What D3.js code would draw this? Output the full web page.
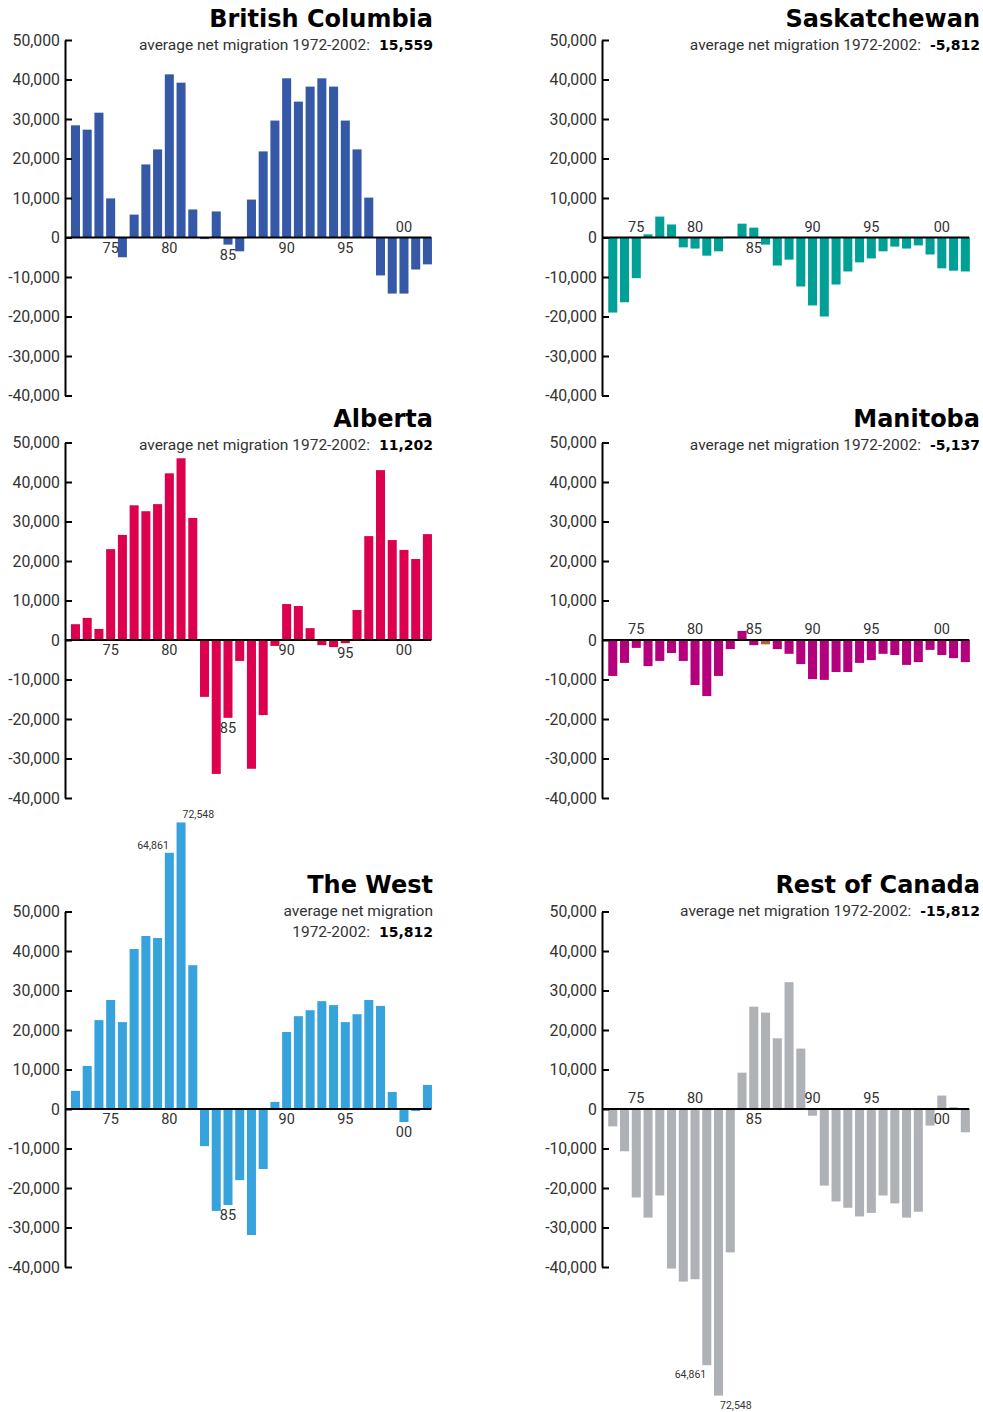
<!DOCTYPE html>
<html>
<head>
<meta charset="utf-8">
<script src="https://cdn.jsdelivr.net/npm/d3@7"></script>
<style>
    body { margin: 0; background: #fff; }
</style>
</head>
<body>
<svg id="drawing_region"></svg>
<script>
// years 1972..2002
const years = d3.range(1972, 2003);
const yearTicks = [1975, 1980, 1985, 1990, 1995, 2000];
const yTickValues = [50000, 40000, 30000, 20000, 10000, 0, -10000, -20000, -30000, -40000];

// net interprovincial migration
const bcValues = [28400, 27300, 31600, 9900, -5000, 5800, 18500, 22300, 41300, 39200, 7100, -400, 6600, -1800, -3500, 9600,
    21800, 29600, 40300, 34400, 38200, 40300, 38200, 29600, 22300, 10100, -9600, -14200, -14200, -8100, -6800];
const skValues = [-19000, -16400, -10300, 800, 5300, 3300, -2500, -2800, -4600, -3500, 200, 3500, 2500, -1800, -7100, -5600,
    -12400, -17200, -20000, -11900, -8600, -6300, -5300, -3500, -2300, -2800, -2000, -4300, -7800, -8400, -8600];
const abValues = [4000, 5600, 2800, 23000, 26600, 34100, 32600, 34400, 42200, 46000, 30900, -14400, -33900, -19700, -5300, -32600,
    -19000, -1500, 9100, 8600, 3000, -1300, -1800, -800, 7600, 26300, 43000, 25300, 22800, 20500, 26800];
const mbValues = [-9100, -5800, -2000, -6600, -5300, -3300, -5300, -11400, -14200, -9100, -2300, 2300, -1300, -1100, -2300, -3500,
    -6100, -9900, -10100, -8100, -8100, -5800, -5100, -3500, -3800, -6300, -5600, -2500, -3800, -4600, -5600];
const westValues = [4600, 10900, 22500, 27600, 22000, 40500, 43800, 43300, 64861, 72548, 36400, -9400, -25800, -24300, -18000, -31900,
    -15200, 1800, 19500, 23500, 25000, 27300, 26300, 22000, 24000, 27600, 26100, 4300, -3300, -500, 6100];
const rocValues = [-4400, -10700, -22400, -27500, -21900, -40400, -43700, -43100, -64861, -72548, -36300, 9200, 25900, 24400, 17900, 32100,
    15300, -1700, -19400, -23400, -25000, -27200, -26300, -21900, -23900, -27500, -26000, -4200, 3400, 450, -5900];

// average net migration 1972-2002
const averages = [15559, -5812, 11202, -5137, 15812, -15812];
const titles = ["British Columbia", "Saskatchewan", "Alberta", "Manitoba", "The West", "Rest of Canada"];
const colors = ["#3559a6", "#00a096", "#dc004e", "#b4007c", "#36a3dd", "#aeb1b5"];

// which side of the zero line each year label sits (75,80,85,90,95,00)
const labelSides = [
    ["below", "below", "below", "below", "below", "above"],
    ["above", "above", "below", "above", "above", "above"],
    ["below", "below", "below", "below", "below", "below"],
    ["above", "above", "above", "above", "above", "above"],
    ["below", "below", "below", "below", "below", "below"],
    ["above", "above", "below", "above", "above", "below"]
];

const mbHighlightYears = [1985];
const highlightColor = "#b5603c";

const fmt = d3.formatLocale({decimal: ".", thousands: ",", grouping: [3], currency: ["", ""], minus: "-"}).format(",");

const panels = [
    {title: titles[0], values: bcValues, avg: averages[0], color: colors[0], col: 0, row: 0, sides: labelSides[0], highlight: [], notes: [],
        subtitle: ["average net migration 1972-2002:"]},
    {title: titles[1], values: skValues, avg: averages[1], color: colors[1], col: 1, row: 0, sides: labelSides[1], highlight: [], notes: [],
        subtitle: ["average net migration 1972-2002:"]},
    {title: titles[2], values: abValues, avg: averages[2], color: colors[2], col: 0, row: 1, sides: labelSides[2], highlight: [], notes: [],
        subtitle: ["average net migration 1972-2002:"]},
    {title: titles[3], values: mbValues, avg: averages[3], color: colors[3], col: 1, row: 1, sides: labelSides[3], highlight: mbHighlightYears, notes: [],
        subtitle: ["average net migration 1972-2002:"]},
    {title: titles[4], values: westValues, avg: averages[4], color: colors[4], col: 0, row: 2, sides: labelSides[4], highlight: [],
        notes: [{year: 1980, anchor: "end"}, {year: 1981, anchor: "start"}],
        subtitle: ["average net migration", "1972-2002:"]},
    {title: titles[5], values: rocValues, avg: averages[5], color: colors[5], col: 1, row: 2, sides: labelSides[5], highlight: [],
        notes: [{year: 1980, anchor: "end"}, {year: 1981, anchor: "start"}],
        subtitle: ["average net migration 1972-2002:"]}
];

// right column year labels sit one bar early in the original (except 00)
const colLayout = [
    {axisX: 65, band: [69.6, 433.3], right: 433, labelShift: [0, 0, 0, 0, 0, 0]},
    {axisX: 602, band: [606.9, 971.2], right: 980, labelShift: [-1, -1, -1, -1, -1, 0]}
];
const rowLayout = [
    {top: 40, title: 26.5},
    {top: 442.5, title: 426.5},
    {top: 911.5, title: 893.3}
];
const plotHeight = 355.5;
const textFont = 'Roboto, "Liberation Sans", sans-serif';
const heavyFont = '"DejaVu Sans", "Liberation Sans", sans-serif';

const svg = d3.select('#drawing_region')
    .attr('width', 983)
    .attr('height', 1412)
    .style('font-family', textFont);

svg.append('rect').attr('width', 983).attr('height', 1412).attr('fill', '#fff');

panels.forEach(p => {
    const c = colLayout[p.col];
    const r = rowLayout[p.row];

    const x = d3.scaleBand()
        .domain(years)
        .range(c.band)
        .paddingInner(0.23)
        .paddingOuter(0.115);

    const y = d3.scaleLinear()
        .domain([-40000, 50000])
        .range([r.top + plotHeight, r.top]);

    const data = years.map((yr, i) => ({year: yr, value: p.values[i]}));
    const g = svg.append('g');

    // bars
    g.selectAll('rect.bar')
        .data(data)
        .enter()
        .append('rect')
        .attr('class', 'bar')
        .attr('x', d => x(d.year))
        .attr('width', x.bandwidth())
        .attr('y', d => y(Math.max(0, d.value)))
        .attr('height', d => Math.abs(y(d.value) - y(0)))
        .attr('fill', d => p.highlight.includes(d.year) ? highlightColor : p.color);

    // zero line
    g.append('line')
        .attr('x1', c.axisX)
        .attr('x2', c.band[1] - 2)
        .attr('y1', y(0))
        .attr('y2', y(0))
        .attr('stroke', '#000')
        .attr('stroke-width', 2);

    // y axis, ticks pointing inward
    const axis = d3.axisLeft(y)
        .tickValues(yTickValues)
        .tickFormat(fmt)
        .tickSizeInner(-7)
        .tickSizeOuter(0)
        .tickPadding(5);

    const ag = g.append('g')
        .attr('transform', `translate(${c.axisX},0)`)
        .call(axis)
        .attr('font-family', textFont)
        .attr('font-size', 15.8);
    ag.select('.domain').attr('stroke', '#000').attr('stroke-width', 2);
    ag.selectAll('.tick line').attr('stroke', '#000').attr('stroke-width', 2);
    ag.selectAll('.tick text').attr('fill', '#333');

    // year labels
    const labelYear = (yr, k) => yr + c.labelShift[k];
    g.selectAll('text.year')
        .data(yearTicks)
        .enter()
        .append('text')
        .attr('class', 'year')
        .attr('x', (yr, k) => x(labelYear(yr, k)) + x.bandwidth() / 2)
        .attr('y', (yr, k) => {
            const v = p.values[years.indexOf(labelYear(yr, k))];
            return p.sides[k] === 'above' ? Math.min(y(0), y(v)) - 6 : Math.max(y(0), y(v)) + 15;
        })
        .attr('text-anchor', 'middle')
        .attr('font-size', 14.5)
        .attr('fill', '#333')
        .text(yr => d3.format('02')(yr % 100));

    // value notes on the tallest bars
    g.selectAll('text.note')
        .data(p.notes)
        .enter()
        .append('text')
        .attr('class', 'note')
        .attr('x', n => n.anchor === 'end' ? x(n.year) + 4 : x(n.year) + 6)
        .attr('y', n => {
            const v = p.values[years.indexOf(n.year)];
            return v > 0 ? y(v) - 4 : y(v) + 13;
        })
        .attr('text-anchor', n => n.anchor)
        .attr('font-size', 10.5)
        .attr('fill', '#333')
        .text(n => fmt(Math.abs(p.values[years.indexOf(n.year)])));

    // title
    g.append('text')
        .attr('x', c.right)
        .attr('y', r.title)
        .attr('text-anchor', 'end')
        .style('font-family', heavyFont)
        .attr('font-size', 24)
        .attr('font-weight', 700)
        .attr('fill', '#000')
        .text(p.title);

    // subtitle with bold average
    p.subtitle.forEach((line, i) => {
        const t = g.append('text')
            .attr('x', c.right)
            .attr('y', r.title + 23 + i * 21)
            .attr('text-anchor', 'end')
            .attr('font-size', 15.5)
            .attr('fill', '#333');
        t.append('tspan').text(line);
        if (i === p.subtitle.length - 1) {
            t.append('tspan')
                .attr('dx', 9)
                .style('font-family', heavyFont)
                .attr('font-weight', 700)
                .attr('font-size', 14)
                .attr('fill', '#000')
                .text(fmt(p.avg));
        }
    });
});
</script>
</body>
</html>
